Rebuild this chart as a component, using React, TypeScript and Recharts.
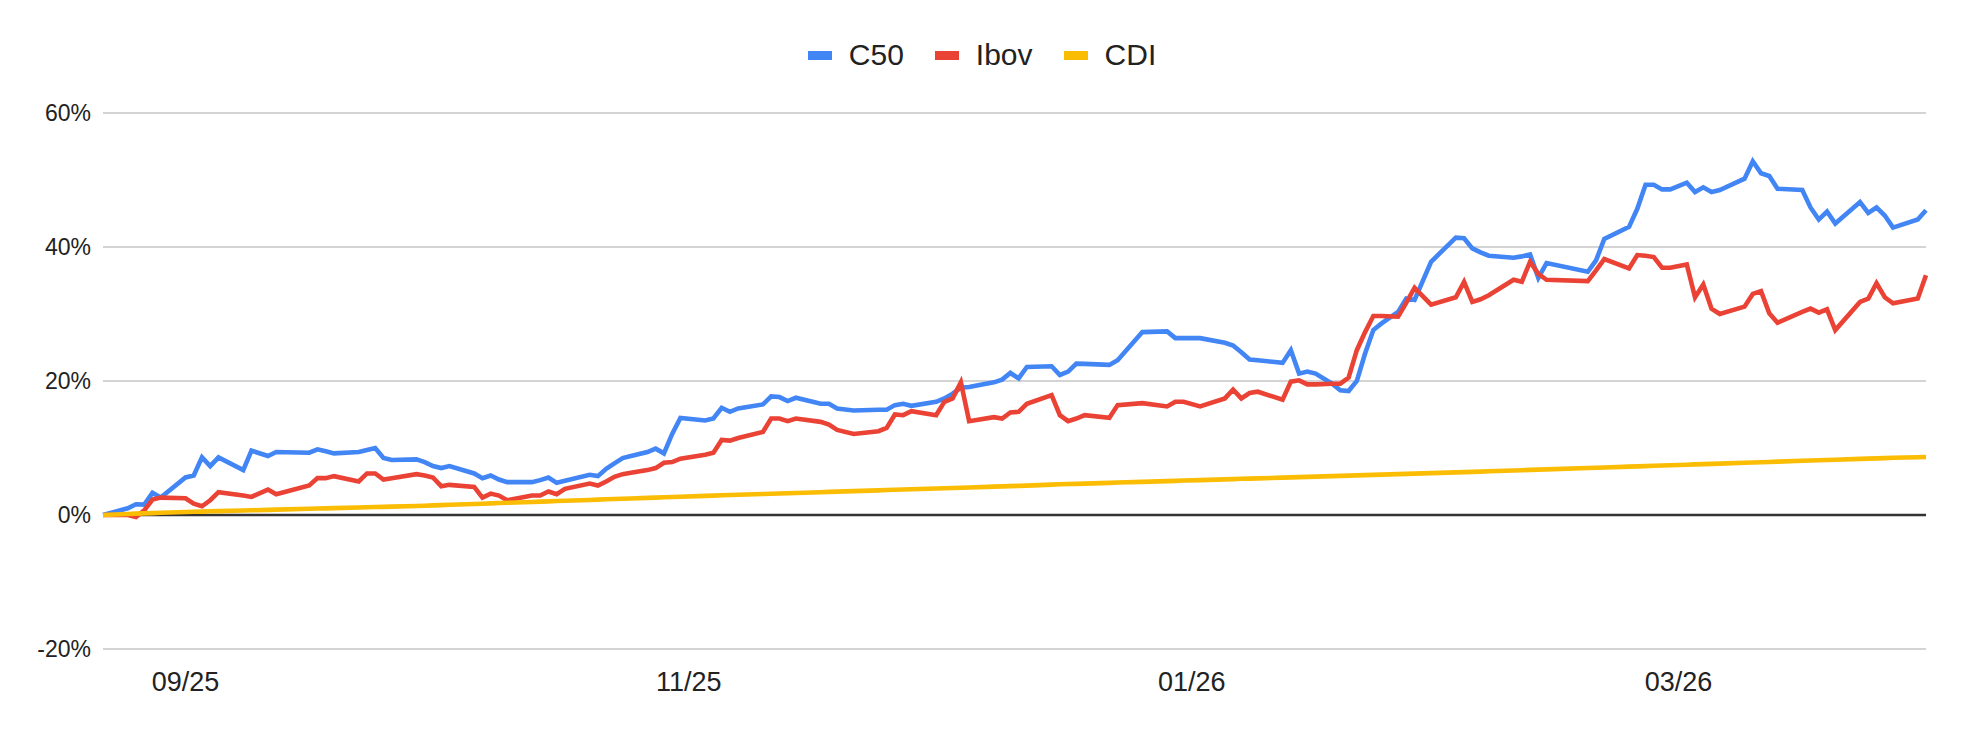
import { LineChart, Line, XAxis, YAxis, CartesianGrid, ReferenceLine, Legend } from "recharts";

// accumulated return (%) per date
const dates = [
  "2025-08-22", "2025-08-25", "2025-08-26", "2025-08-27", "2025-08-28", "2025-08-29",
  "2025-09-01", "2025-09-02", "2025-09-03", "2025-09-04", "2025-09-05", "2025-09-08",
  "2025-09-09", "2025-09-11", "2025-09-12", "2025-09-16", "2025-09-17", "2025-09-18",
  "2025-09-19", "2025-09-22", "2025-09-23", "2025-09-24", "2025-09-25", "2025-09-26",
  "2025-09-29", "2025-09-30", "2025-10-01", "2025-10-02", "2025-10-03", "2025-10-06",
  "2025-10-07", "2025-10-08", "2025-10-09", "2025-10-10", "2025-10-13", "2025-10-14",
  "2025-10-15", "2025-10-16", "2025-10-17", "2025-10-20", "2025-10-21", "2025-10-22",
  "2025-10-23", "2025-10-24", "2025-10-25", "2025-10-27", "2025-10-28", "2025-10-29",
  "2025-10-30", "2025-10-31", "2025-11-03", "2025-11-04", "2025-11-05", "2025-11-06",
  "2025-11-07", "2025-11-10", "2025-11-11", "2025-11-12", "2025-11-13", "2025-11-14",
  "2025-11-17", "2025-11-18", "2025-11-19", "2025-11-21", "2025-11-24", "2025-11-25",
  "2025-11-26", "2025-11-27", "2025-11-28", "2025-12-01", "2025-12-02", "2025-12-03",
  "2025-12-04", "2025-12-05", "2025-12-08", "2025-12-09", "2025-12-10", "2025-12-11",
  "2025-12-12", "2025-12-15", "2025-12-16", "2025-12-17", "2025-12-18", "2025-12-19",
  "2025-12-22", "2025-12-23", "2025-12-26", "2025-12-29", "2025-12-30", "2025-12-31",
  "2026-01-02", "2026-01-05", "2026-01-06", "2026-01-07", "2026-01-08", "2026-01-09",
  "2026-01-12", "2026-01-13", "2026-01-14", "2026-01-15", "2026-01-16", "2026-01-18",
  "2026-01-19", "2026-01-20", "2026-01-21", "2026-01-22", "2026-01-23", "2026-01-24",
  "2026-01-26", "2026-01-27", "2026-01-28", "2026-01-30", "2026-02-02", "2026-02-03",
  "2026-02-04", "2026-02-05", "2026-02-06", "2026-02-09", "2026-02-10", "2026-02-11",
  "2026-02-12", "2026-02-13", "2026-02-18", "2026-02-19", "2026-02-20", "2026-02-23",
  "2026-02-24", "2026-02-25", "2026-02-26", "2026-02-27", "2026-02-28", "2026-03-02",
  "2026-03-03", "2026-03-04", "2026-03-05", "2026-03-06", "2026-03-09", "2026-03-10",
  "2026-03-11", "2026-03-12", "2026-03-13", "2026-03-16", "2026-03-17", "2026-03-18",
  "2026-03-19", "2026-03-20", "2026-03-23", "2026-03-24", "2026-03-25", "2026-03-26",
  "2026-03-27", "2026-03-30", "2026-03-31",
];

const c50 = [
  0, 1.0, 1.6, 1.55, 3.3, 2.6,
  5.6, 5.9, 8.6, 7.3, 8.6, 6.7,
  9.6, 8.8, 9.4, 9.3, 9.8, 9.5,
  9.2, 9.4, 9.7, 10.0, 8.5, 8.2,
  8.3, 7.9, 7.3, 7.0, 7.3, 6.2,
  5.5, 5.9, 5.3, 4.9, 4.9, 5.2,
  5.6, 4.8, 5.1, 6.0, 5.8, 6.9,
  7.7, 8.5, 8.8, 9.4, 9.9, 9.2,
  12.1, 14.5, 14.1, 14.4, 16.0, 15.4,
  15.9, 16.5, 17.7, 17.6, 17.0, 17.5,
  16.6, 16.6, 15.9, 15.6, 15.7, 15.7,
  16.4, 16.6, 16.3, 16.9, 17.4, 18.1,
  19.0, 19.1, 19.8, 20.2, 21.2, 20.4,
  22.1, 22.2, 20.9, 21.4, 22.6, 22.55,
  22.4, 23.1, 27.3, 27.4, 26.4, 26.4,
  26.4, 25.7, 25.3, 24.3, 23.2, 23.1,
  22.7, 24.6, 21.1, 21.4, 21.1, 19.6,
  18.6, 18.5, 20.0, 24.1, 27.6, 28.6,
  30.3, 32.3, 32.1, 37.8, 41.4, 41.3,
  39.8, 39.2, 38.7, 38.4, 38.6, 38.9,
  35.4, 37.6, 36.3, 38.0, 41.2, 43.0,
  45.7, 49.3, 49.3, 48.6, 48.6, 49.6,
  48.2, 48.9, 48.2, 48.5, 50.2, 52.8,
  51.0, 50.6, 48.7, 48.5, 45.9, 44.1,
  45.3, 43.5, 46.7, 45.1, 45.9, 44.7,
  42.9, 44.1, 45.5,
];

const ibov = [
  0, 0.0, -0.3, 0.7, 2.3, 2.6,
  2.5, 1.7, 1.3, 2.2, 3.4, 2.9,
  2.7, 3.8, 3.1, 4.4, 5.5, 5.5,
  5.8, 5.0, 6.2, 6.2, 5.3, 5.5,
  6.1, 5.9, 5.6, 4.3, 4.5, 4.2,
  2.6, 3.2, 2.9, 2.2, 2.9, 2.9,
  3.5, 3.1, 3.9, 4.7, 4.4, 5.0,
  5.7, 6.1, 6.3, 6.7, 7.0, 7.8,
  7.9, 8.4, 9.0, 9.3, 11.2, 11.1,
  11.5, 12.4, 14.4, 14.4, 14.0, 14.4,
  13.9, 13.5, 12.7, 12.1, 12.5, 13.0,
  15.0, 14.9, 15.5, 14.9, 16.9, 17.4,
  19.8, 14.0, 14.6, 14.4, 15.3, 15.4,
  16.6, 17.9, 14.9, 14.0, 14.4, 14.9,
  14.5, 16.4, 16.7, 16.2, 16.9, 16.9,
  16.2, 17.4, 18.7, 17.4, 18.2, 18.4,
  17.2, 19.9, 20.1, 19.5, 19.5, 19.6,
  19.6, 20.5, 24.6, 27.3, 29.7, 29.7,
  29.6, 31.7, 33.9, 31.4, 32.5, 34.8,
  31.8, 32.2, 32.8, 35.1, 34.8, 37.8,
  36.0, 35.1, 34.9, 36.5, 38.2, 36.8,
  38.8, 38.7, 38.5, 36.9, 36.9, 37.4,
  32.5, 34.4, 30.8, 30.0, 31.1, 33.0,
  33.4, 30.1, 28.7, 30.3, 30.8, 30.2,
  30.7, 27.6, 31.8, 32.3, 34.6, 32.5,
  31.6, 32.3, 35.8,
];

const cdi = [
  0, 0.15, 0.2, 0.24, 0.28, 0.33,
  0.45, 0.48, 0.51, 0.55, 0.58, 0.67,
  0.71, 0.77, 0.8, 0.93, 0.96, 0.99,
  1.03, 1.12, 1.15, 1.19, 1.22, 1.25,
  1.35, 1.39, 1.43, 1.48, 1.52, 1.65,
  1.69, 1.74, 1.78, 1.82, 1.95, 1.99,
  2.04, 2.08, 2.12, 2.25, 2.29, 2.34,
  2.38, 2.42, 2.46, 2.55, 2.59, 2.64,
  2.68, 2.72, 2.85, 2.89, 2.94, 2.98,
  3.02, 3.13, 3.17, 3.21, 3.25, 3.29,
  3.4, 3.45, 3.49, 3.56, 3.68, 3.72,
  3.76, 3.8, 3.84, 3.95, 3.99, 4.03,
  4.07, 4.11, 4.23, 4.27, 4.31, 4.35,
  4.39, 4.54, 4.58, 4.62, 4.65, 4.69,
  4.8, 4.84, 4.95, 5.06, 5.1, 5.14,
  5.21, 5.32, 5.36, 5.4, 5.43, 5.47,
  5.58, 5.62, 5.66, 5.69, 5.73, 5.8,
  5.84, 5.88, 5.91, 5.95, 5.99, 6.03,
  6.1, 6.14, 6.17, 6.25, 6.36, 6.4,
  6.44, 6.48, 6.52, 6.65, 6.69, 6.73,
  6.77, 6.81, 7.02, 7.06, 7.1, 7.22,
  7.26, 7.3, 7.35, 7.39, 7.43, 7.51,
  7.55, 7.59, 7.63, 7.67, 7.8, 7.84,
  7.88, 7.92, 7.96, 8.09, 8.13, 8.17,
  8.21, 8.25, 8.37, 8.41, 8.45, 8.49,
  8.54, 8.62, 8.66,
];

const yTicks = [-20, 0, 20, 40, 60];
const xTickDates = ["2025-09-01", "2025-11-01", "2026-01-01", "2026-03-01"];

const series = [
  { key: "c50", name: "C50", color: "#4285F4" },
  { key: "ibov", name: "Ibov", color: "#EA4335" },
  { key: "cdi", name: "CDI", color: "#FBBC04" },
];

const data = dates.map((d, i) => ({
  t: Date.parse(d),
  c50: c50[i],
  ibov: ibov[i],
  cdi: cdi[i],
}));

const xTicks = xTickDates.map((d) => Date.parse(d));

const FONT = "'Liberation Sans', Arial, sans-serif";

const fmtMonth = (t: number) => {
  const d = new Date(t);
  const mm = String(d.getUTCMonth() + 1).padStart(2, "0");
  const yy = String(d.getUTCFullYear() % 100).padStart(2, "0");
  return `${mm}/${yy}`;
};

const renderLegend = () => (
  <div
    style={{
      display: "flex",
      justifyContent: "center",
      alignItems: "center",
      height: 40,
      fontFamily: FONT,
      fontSize: 30,
      color: "#222",
    }}
  >
    {series.map((s, i) => (
      <div key={s.key} style={{ display: "flex", alignItems: "center", marginLeft: i ? 31 : 0 }}>
        <span style={{ display: "inline-block", width: 24, height: 9, background: s.color, marginRight: 17 }} />
        <span>{s.name}</span>
      </div>
    ))}
  </div>
);

export default function App() {
  return (
    <div style={{ position: "absolute", left: 0, top: 0, width: 1964, height: 732, background: "#fff" }}>
      <LineChart width={1964} height={732} data={data} margin={{ top: 113, right: 38, left: 0, bottom: 0 }}>
        <CartesianGrid horizontal vertical={false} stroke="#c6c6c6" strokeWidth={1.6} />
        <XAxis
          dataKey="t"
          type="number"
          scale="time"
          domain={["dataMin", "dataMax"]}
          ticks={xTicks}
          tickFormatter={fmtMonth}
          axisLine={false}
          tickLine={false}
          tickSize={0}
          tickMargin={23}
          height={83}
          tick={{ fill: "#222", fontSize: 27, fontFamily: FONT }}
        />
        <YAxis
          domain={[-20, 60]}
          ticks={yTicks}
          tickFormatter={(v: number) => `${v}%`}
          axisLine={false}
          tickLine={false}
          tickSize={0}
          tickMargin={12}
          width={103}
          tick={{ fill: "#222", fontSize: 23, fontFamily: FONT }}
        />
        <ReferenceLine y={0} stroke="#333" strokeWidth={2.5} />
        <Legend
          content={renderLegend}
          verticalAlign="middle"
          align="center"
          wrapperStyle={{ top: 35, left: 0, width: 1964 }}
        />
        {series.map((s) => (
          <Line
            key={s.key}
            type="linear"
            dataKey={s.key}
            name={s.name}
            stroke={s.color}
            strokeWidth={4.6}
            dot={false}
            activeDot={false}
            isAnimationActive={false}
          />
        ))}
      </LineChart>
    </div>
  );
}
